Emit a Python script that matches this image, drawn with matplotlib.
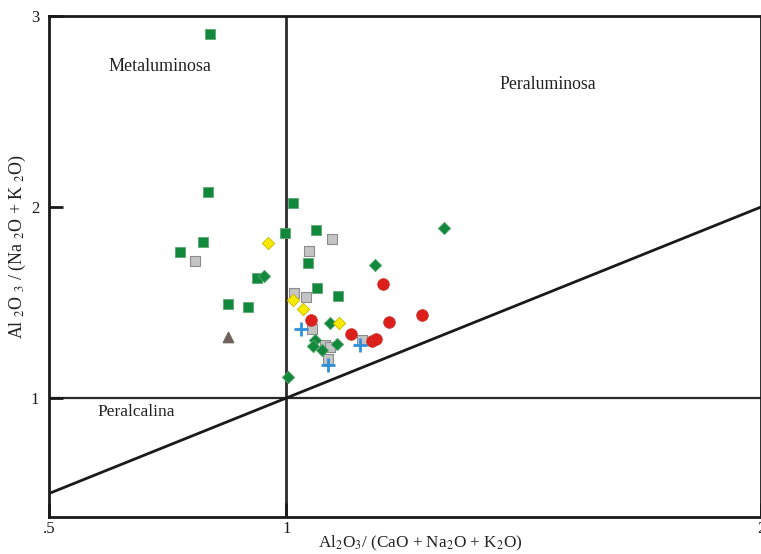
import matplotlib
matplotlib.use("Agg")
import matplotlib.pyplot as plt

plt.rcParams['font.family'] = ['Liberation Serif', 'DejaVu Serif']
plt.rcParams['mathtext.fontset'] = 'stix'

# ---- data (A/CNK, A/NK) ----
green_sq_x = [0.840, 0.834, 0.777, 0.824, 0.878, 0.920, 0.939, 1.015, 0.998, 1.063, 1.046, 1.065, 1.109]
green_sq_y = [2.906, 2.079, 1.764, 1.817, 1.492, 1.476, 1.628, 2.021, 1.864, 1.880, 1.707, 1.576, 1.534]

gray_sq_x = [0.808, 1.096, 1.047, 1.017, 1.041, 1.054, 1.082, 1.091, 1.088, 1.159]
gray_sq_y = [1.717, 1.832, 1.770, 1.550, 1.527, 1.361, 1.276, 1.268, 1.204, 1.304]

green_di_x = [0.954, 1.332, 1.187, 1.004, 1.092, 1.061, 1.057, 1.076, 1.107]
green_di_y = [1.639, 1.890, 1.696, 1.110, 1.393, 1.304, 1.272, 1.251, 1.283]

yellow_x = [0.961, 1.015, 1.036, 1.110]
yellow_y = [1.810, 1.513, 1.464, 1.391]

red_x = [1.203, 1.285, 1.217, 1.052, 1.137, 1.180, 1.189]
red_y = [1.598, 1.435, 1.400, 1.408, 1.334, 1.300, 1.307]

blue_x = [1.031, 1.155, 1.088]
blue_y = [1.360, 1.277, 1.173]

tri_x = [0.877]
tri_y = [1.321]

x_ticks = [0.5, 1, 2]
x_ticklabels = ['.5', '1', '2']
y_ticks = [1, 2, 3]
y_ticklabels = ['1', '2', '3']

fig = plt.figure(figsize=(7.61, 5.54), dpi=100)
ax = fig.add_axes([49/761, (554-517)/554, (761-49)/761, (517-16)/554])
ax.set_xlim(0.5, 2.0)
ax.set_ylim(0.377, 3.0)

# reference lines
ax.axvline(1.0, color='#2a2a2a', lw=2.0, zorder=1)
ax.axhline(1.0, color='#2a2a2a', lw=1.6, zorder=1)
ax.plot([0.5, 2.0], [0.5, 2.0], color='#1a1a1a', lw=2.0, zorder=1)

# points
ax.scatter(green_sq_x, green_sq_y, marker='s', s=62, color='#12883c',
           edgecolors='#5aa872', linewidths=0.6, zorder=3)
ax.scatter(gray_sq_x, gray_sq_y, marker='s', s=62, color='#c4c4c4',
           edgecolors='#8c8c8c', linewidths=0.8, zorder=3)
ax.scatter(green_di_x, green_di_y, marker='D', s=40, color='#12883c',
           edgecolors='#5aa872', linewidths=0.6, zorder=4)
ax.scatter(yellow_x, yellow_y, marker='D', s=40, color='#f7ea00',
           edgecolors='#c9b800', linewidths=0.6, zorder=4)
ax.scatter(red_x, red_y, marker='o', s=70, color='#dc1f1a',
           edgecolors='#c8332c', linewidths=0.6, zorder=4)
ax.scatter(blue_x, blue_y, marker='+', s=90, color='#2f8fd8',
           linewidths=2.0, zorder=5)
ax.scatter(tri_x, tri_y, marker='^', s=55, color='#6e625a', zorder=4)

# region labels
ax.text(0.626, 2.738, 'Metaluminosa', fontsize=13, va='center', ha='left', color='#222222')
ax.text(1.450, 2.639, 'Peraluminosa', fontsize=12.8, va='center', ha='left', color='#222222')
ax.text(0.603, 0.927, 'Peralcalina', fontsize=12.5, va='center', ha='left', color='#222222')

# axes styling
for s in ax.spines.values():
    s.set_linewidth(2.0)
    s.set_color('#1a1a1a')
ax.set_xticks(x_ticks)
ax.set_xticklabels(x_ticklabels)
ax.set_yticks(y_ticks)
ax.set_yticklabels(y_ticklabels)
ax.tick_params(axis='both', direction='in', length=10, width=2, labelsize=12,
               colors='#1a1a1a')
ax.tick_params(axis='x', pad=3)
ax.tick_params(axis='y', pad=7)

ax.set_xlabel(r'Al$_2$O$_3$/ (CaO + Na$_2$O + K$_2$O)', fontsize=12.3, color='#222222')
ax.xaxis.set_label_coords(0.522, -0.034)
ax.set_ylabel(r'Al $_2$O $_3$ / (Na $_2$O + K $_2$O)', fontsize=13, color='#222222')
ax.yaxis.set_label_coords(-0.03, 0.54)

fig.savefig('out.png', dpi=100)
